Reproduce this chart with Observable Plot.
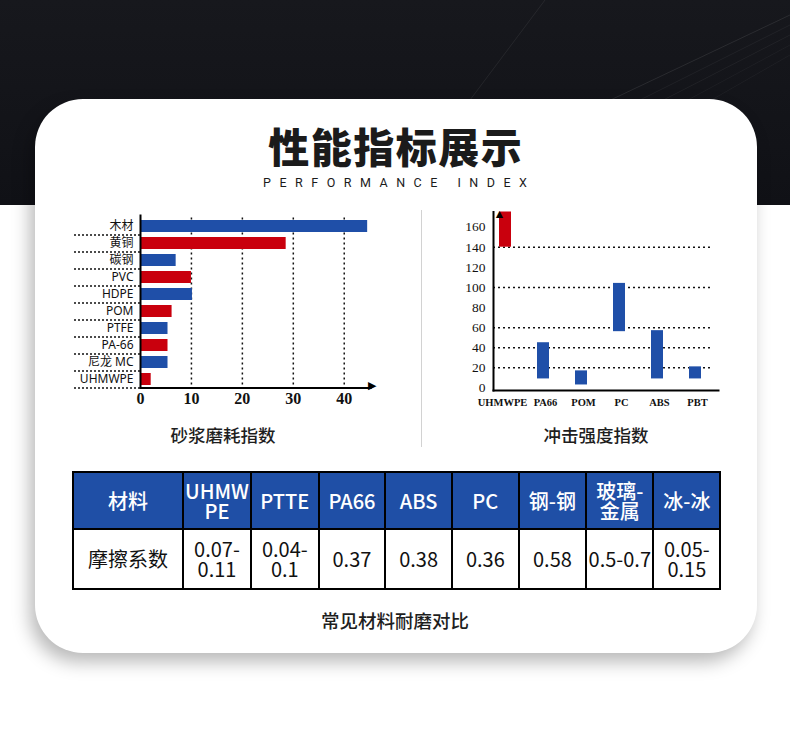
<!DOCTYPE html>
<html><head><meta charset="utf-8">
<script src="https://cdn.jsdelivr.net/npm/d3@7"></script>
<script src="https://cdn.jsdelivr.net/npm/@observablehq/plot@0.6"></script>
<style>
html,body{margin:0;padding:0;}
body{width:790px;height:754px;position:relative;overflow:hidden;background:#fff;font-family:"Noto Sans CJK SC","Noto Sans",sans-serif;}
#bg{position:absolute;left:0;top:0;width:790px;height:205px;background:linear-gradient(180deg,#17181d 0%,#101116 100%);}
#bg svg{position:absolute;left:0;top:0;}
#card{position:absolute;left:35px;top:99px;width:722px;height:554px;background:#fff;border-radius:48px;box-shadow:-5px 9px 18px rgba(0,0,0,0.28);}
.abs{position:absolute;}
#title{left:0;width:790px;top:126px;text-align:center;font-size:41px;line-height:38px;letter-spacing:1.5px;padding-left:1.5px;box-sizing:border-box;font-weight:900;color:#1b1b1b;}
#subtitle{left:0;width:790px;top:176.5px;text-align:center;font-family:"Liberation Sans Narrow","Roboto",sans-serif;font-size:12.5px;line-height:12px;letter-spacing:8.5px;padding-left:8.5px;box-sizing:border-box;color:#1b1b1b;}
.ctitle{width:200px;text-align:center;font-size:17.5px;line-height:20px;font-weight:500;color:#1e1e1e;top:425px;}
#divider{left:421px;top:210px;width:1px;height:237px;background:#d2d2d2;}
#leftChart{left:40px;top:205px;}
#rightChart{left:440px;top:200px;}
#tbl{position:absolute;left:72px;top:471px;border-collapse:collapse;table-layout:fixed;width:648px;}
#tbl td{border:2.5px solid #000;text-align:center;vertical-align:middle;padding:0;font-size:20px;line-height:20px;white-space:pre-line;color:#111;}
#tbl tr.h td{background:#1f4fa6;color:#fff;font-weight:500;}
#tbl tr.h{height:57px;}
#tbl tr.b{height:60px;}
#caption{left:0;width:790px;top:609px;text-align:center;font-size:18.5px;line-height:22px;font-weight:500;color:#1e1e1e;}
</style>
</head><body>
<div id="bg"><svg width="790" height="205">
<g stroke="#ffffff" fill="none">
<line x1="545" y1="0" x2="470" y2="100" stroke-opacity="0.07"/>
<line x1="790" y1="15" x2="600" y2="105" stroke-opacity="0.09"/>
<line x1="790" y1="25" x2="620" y2="110" stroke-opacity="0.05"/>
<line x1="790" y1="35" x2="640" y2="112" stroke-opacity="0.05"/>
<line x1="790" y1="45" x2="660" y2="115" stroke-opacity="0.04"/>
<line x1="790" y1="55" x2="680" y2="118" stroke-opacity="0.04"/>
</g></svg></div>
<div id="card"></div>
<div id="title" class="abs">性能指标展示</div>
<div id="subtitle" class="abs">PERFORMANCE INDEX</div>
<div id="leftChart" class="abs"></div>
<div id="rightChart" class="abs"></div>
<div id="divider" class="abs"></div>
<div class="abs ctitle" style="left:123px">砂浆磨耗指数</div>
<div class="abs ctitle" style="left:496px">冲击强度指数</div>
<table id="tbl">
<colgroup><col style="width:110px"><col style="width:68px"><col style="width:67.6px"><col style="width:66.7px"><col style="width:66.7px"><col style="width:66.7px"><col style="width:67.5px"><col style="width:67.3px"><col style="width:66.8px"></colgroup>
<tr class="h" id="headRow"></tr>
<tr class="b" id="bodyRow"></tr>
</table>
<div id="caption" class="abs">常见材料耐磨对比</div>
<script>
// ---- Data ----
const abrasionMaterials = ["木材","黄铜","碳钢","PVC","HDPE","POM","PTFE","PA-66","尼龙 MC","UHMWPE"];
const abrasionValues = [44.6, 28.6, 7.0, 10.0, 10.2, 6.2, 5.4, 5.4, 5.4, 2.1];
const abrasionTicks = [0, 10, 20, 30, 40];

const impactMaterials = ["UHMWPE","PA66","POM","PC","ABS","PBT"];
const impactLow  = [140, 9, 3, 56, 9, 9];
const impactHigh = [175, 45, 17, 104, 57, 21];
const impactTicks = [0, 20, 40, 60, 80, 100, 120, 140, 160];
const impactGrid = [20, 40, 60, 100, 140];

const tableHeader = ["材料","UHMW\nPE","PTTE","PA66","ABS","PC","钢-钢","玻璃-\n金属","冰-冰"];
const frictionRow = ["摩擦系数","0.07-\n0.11","0.04-\n0.1","0.37","0.38","0.36","0.58","0.5-0.7","0.05-\n0.15"];

// ---- Styles ----
const BLUE = "#1f4fa8", RED = "#c9000d";
const serif = "'Liberation Serif','DejaVu Serif',serif";
const sans = "'Noto Sans','Noto Sans CJK SC',sans-serif";

const abrasion = abrasionMaterials.map((name, i) => ({name, value: abrasionValues[i], i}));
const impact = impactMaterials.map((name, i) => ({name, low: impactLow[i], high: impactHigh[i], i}));

const leftPlot = Plot.plot({
  width: 350, height: 215,
  marginLeft: 100, marginRight: 20.8, marginTop: 12.5, marginBottom: 32.5,
  style: {background: "transparent", overflow: "visible"},
  x: {domain: [0, 45], label: null},
  y: {type: "band", domain: abrasionMaterials, paddingInner: 0.3, paddingOuter: 0.15, label: null},
  color: {type: "identity"},
  marks: [
    Plot.ruleX(abrasionTicks.slice(1), {stroke: "#111", strokeWidth: 1.5, strokeDasharray: "2,3"}),
    Plot.barX(abrasion, {x: "value", y: "name", fill: d => d.i % 2 ? RED : BLUE}),
    Plot.ruleX([0], {stroke: "#000", strokeWidth: 2, insetTop: -3}),
    Plot.frame({anchor: "bottom", stroke: "#000", strokeWidth: 2, insetRight: -1}),
    Plot.text(["▶"], {frameAnchor: "bottom-right", textAnchor: "start", dx: -2, dy: 1, fontSize: 11, fill: "#000"}),
    Plot.axisY({tickSize: 68, tickFormat: () => "", label: null, dy: 8.5, stroke: "#111", strokeWidth: 1.5, strokeDasharray: "2,2"}),
    Plot.axisY({tickSize: 0, tickPadding: 7, label: null, fontSize: 12, fontFamily: sans, color: "#111"}),
    Plot.axisX({ticks: abrasionTicks, tickSize: 0, tickPadding: 5, label: null, fontSize: 16, fontWeight: "bold", fontFamily: serif, color: "#111"})
  ]
});
document.getElementById("leftChart").append(leftPlot);

const rightPlot = Plot.plot({
  width: 290, height: 220,
  marginLeft: 53, marginRight: 18, marginTop: 11.5, marginBottom: 30,
  style: {background: "transparent", overflow: "visible"},
  x: {type: "band", domain: impactMaterials, paddingInner: 0.686, paddingOuter: 0.2095, align: 0.375, label: null},
  y: {domain: [-2.5, 175], label: null},
  color: {type: "identity"},
  marks: [
    Plot.ruleY(impactGrid, {stroke: "#111", strokeWidth: 1.5, strokeDasharray: "2,3"}),
    Plot.barY(impact, {x: "name", y1: "low", y2: "high", fill: d => d.i === 0 ? RED : BLUE}),
    Plot.frame({anchor: "left", stroke: "#000", strokeWidth: 2}),
    Plot.frame({anchor: "bottom", stroke: "#000", strokeWidth: 2, insetRight: -6}),
    Plot.text(["▲"], {frameAnchor: "top-left", lineAnchor: "middle", dy: 2.5, fontSize: 12, fill: "#000"}),
    Plot.axisY({ticks: impactTicks, tickSize: 0, tickPadding: 8, label: null, fontSize: 13.5, fontFamily: serif, color: "#111"}),
    Plot.axisX({ticks: impactMaterials.slice(0, 1), dx: -3, tickSize: 0, tickPadding: 8, label: null, fontSize: 10.5, fontWeight: "bold", fontFamily: serif, color: "#111"}),
    Plot.axisX({ticks: impactMaterials.slice(1), dx: 2, tickSize: 0, tickPadding: 8, label: null, fontSize: 10.5, fontWeight: "bold", fontFamily: serif, color: "#111"})
  ]
});
document.getElementById("rightChart").append(rightPlot);

const headRow = document.getElementById("headRow");
tableHeader.forEach(t => { const td = document.createElement("td"); td.textContent = t; headRow.append(td); });
const bodyRow = document.getElementById("bodyRow");
frictionRow.forEach(t => { const td = document.createElement("td"); td.textContent = t; bodyRow.append(td); });
</script>
</body></html>
